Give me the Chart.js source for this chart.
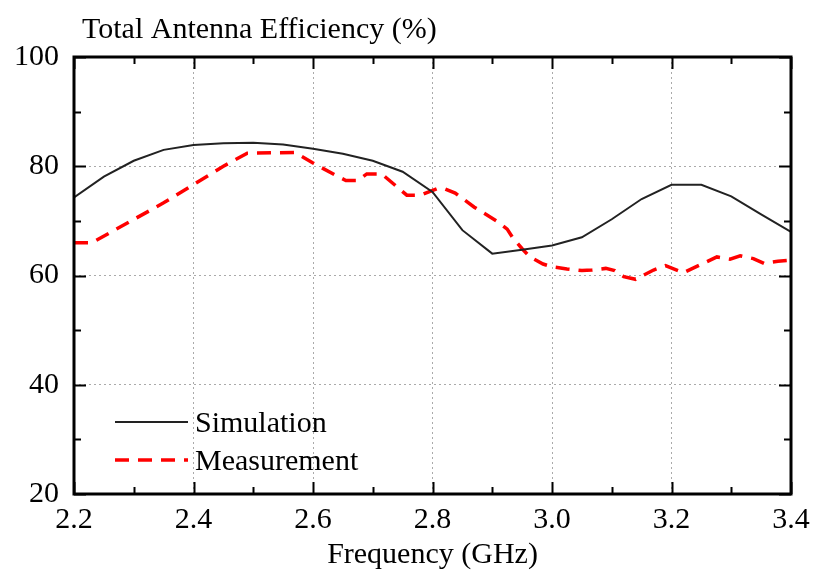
<!DOCTYPE html>
<html>
<head>
<meta charset="utf-8">
<title>Total Antenna Efficiency</title>
<script src="https://cdn.jsdelivr.net/npm/chart.js@4.4.1/dist/chart.umd.min.js"></script>
<style>
  html, body { margin: 0; padding: 0; background: #fff; }
</style>
</head>
<body>
<canvas id="eff" width="813" height="574"></canvas>
<script>
// Frequency sweep (GHz) and efficiency (%)
const simFreq = [2.20, 2.25, 2.30, 2.35, 2.40, 2.45, 2.50, 2.55, 2.60, 2.65, 2.70, 2.75,
  2.80, 2.85, 2.90, 2.95, 3.00, 3.05, 3.10, 3.15, 3.20, 3.25, 3.30, 3.35, 3.40];
const simEff = [74.3, 78.1, 81.0, 83.0, 83.9, 84.2, 84.3, 84.0, 83.2, 82.3, 81.0, 79.0,
  75.3, 68.3, 64.0, 64.7, 65.5, 67.0, 70.3, 74.0, 76.6, 76.6, 74.5, 71.2, 68.0];

const measFreq = [2.20, 2.23, 2.35, 2.45, 2.49, 2.57, 2.60, 2.637, 2.655, 2.675, 2.69, 2.715,
  2.757, 2.78, 2.81, 2.82, 2.838, 2.87, 2.91, 2.925, 2.935, 2.95, 2.963, 2.985, 3.00, 3.025,
  3.05, 3.067, 3.09, 3.105, 3.12, 3.14, 3.17, 3.19, 3.22, 3.276, 3.298, 3.315, 3.337, 3.355,
  3.378, 3.40];
const measEff = [66.0, 66.0, 73.3, 80.0, 82.4, 82.5, 80.6, 78.4, 77.4, 77.4, 78.6, 78.6,
  74.7, 74.7, 76.0, 75.9, 75.1, 72.5, 69.8, 68.5, 66.8, 64.9, 63.4, 62.1, 61.6, 61.2,
  60.9, 61.0, 61.3, 60.9, 59.8, 59.3, 61.0, 61.8, 60.5, 63.4, 63.0, 63.6, 63.1, 62.2,
  62.6, 62.8];

const xTicks = [2.2, 2.4, 2.6, 2.8, 3.0, 3.2, 3.4];
const yTicks = [20, 40, 60, 80, 100];
const seriesNames = ["Simulation", "Measurement"];

const serif = "'Liberation Serif', 'Times New Roman', serif";

function pts(xs, ys) {
  return xs.map((x, i) => ({ x: x, y: ys[i] }));
}

// frame, inward ticks on all four sides, in-plot legend and top-left axis caption
const framePlugin = {
  id: "frame",
  afterDraw(chart) {
    const ctx = chart.ctx;
    const a = chart.chartArea;
    const xs = chart.scales.x;
    const ys = chart.scales.y;
    ctx.save();
    ctx.strokeStyle = "#000";
    ctx.lineWidth = 2;
    // major + minor ticks along x
    for (let i = 0; i <= 12; i++) {
      const v = 2.2 + i * 0.1;
      const px = Math.round(xs.getPixelForValue(v)) + 0.5;
      const len = i % 2 === 0 ? 12 : 7;
      ctx.beginPath();
      ctx.moveTo(px, a.bottom); ctx.lineTo(px, a.bottom - len);
      ctx.moveTo(px, a.top); ctx.lineTo(px, a.top + len);
      ctx.stroke();
    }
    for (let v = 20; v <= 100; v += 10) {
      const py = Math.round(ys.getPixelForValue(v)) + 0.5;
      const len = v % 20 === 0 ? 12 : 7;
      ctx.beginPath();
      ctx.moveTo(a.left, py); ctx.lineTo(a.left + len, py);
      ctx.moveTo(a.right, py); ctx.lineTo(a.right - len, py);
      ctx.stroke();
    }
    ctx.lineWidth = 3;
    ctx.strokeRect(a.left, a.top, a.right - a.left, a.bottom - a.top);

    // legend
    const ds = chart.data.datasets;
    const rows = [422, 460];
    ctx.font = "30px " + serif;
    ctx.textBaseline = "alphabetic";
    ctx.textAlign = "left";
    ds.forEach((d, i) => {
      ctx.beginPath();
      ctx.strokeStyle = d.borderColor;
      ctx.lineWidth = d.borderWidth;
      ctx.setLineDash(d.borderDash || []);
      ctx.moveTo(115, rows[i]);
      ctx.lineTo(188, rows[i]);
      ctx.stroke();
      ctx.setLineDash([]);
      ctx.fillStyle = "#000";
      ctx.fillText(d.label, 195, rows[i] + 10);
    });

    // y caption above the plot
    ctx.fillText("Total Antenna Efficiency (%)", 82, 38);
    ctx.restore();
  }
};

new Chart(document.getElementById("eff"), {
  type: "line",
  plugins: [framePlugin],
  data: {
    datasets: [
      {
        label: seriesNames[0],
        data: pts(simFreq, simEff),
        borderColor: "#222",
        borderWidth: 2,
        pointRadius: 0,
        tension: 0,
        fill: false
      },
      {
        label: seriesNames[1],
        data: pts(measFreq, measEff),
        borderColor: "#ff0000",
        borderWidth: 3.5,
        borderDash: [14, 9],
        pointRadius: 0,
        tension: 0,
        fill: false
      }
    ]
  },
  options: {
    responsive: false,
    animation: false,
    layout: { padding: { left: 0, top: 57, right: 22, bottom: 0 } },
    plugins: {
      legend: { display: false },
      tooltip: { enabled: false }
    },
    scales: {
      x: {
        type: "linear",
        min: 2.2,
        max: 3.4,
        afterBuildTicks(scale) {
          scale.ticks = xTicks.map((v) => ({ value: v }));
        },
        afterFit(scale) {
          scale.height = 80;
          scale.paddingLeft = 0;
          scale.paddingRight = 0;
        },
        ticks: {
          color: "#000",
          font: { family: serif, size: 30 },
          padding: 8,
          autoSkip: false,
          maxRotation: 0,
          callback: (v) => v.toFixed(1)
        },
        grid: {
          color: "#aaa",
          lineWidth: 1,
          drawTicks: false
        },
        border: { display: false, dash: [2, 3] },
        title: {
          display: true,
          text: "Frequency (GHz)",
          color: "#000",
          font: { family: serif, size: 30 },
          padding: { top: 0, bottom: 1 }
        }
      },
      y: {
        min: 20,
        max: 100,
        afterBuildTicks(scale) {
          scale.ticks = yTicks.map((v) => ({ value: v }));
        },
        afterFit(scale) {
          scale.width = 74;
          scale.paddingTop = 0;
          scale.paddingBottom = 0;
        },
        ticks: {
          color: "#000",
          font: { family: serif, size: 30 },
          autoSkip: false,
          padding: 15
        },
        grid: {
          color: "#aaa",
          lineWidth: 1,
          drawTicks: false
        },
        border: { display: false, dash: [2, 3] }
      }
    }
  }
});
</script>
</body>
</html>
